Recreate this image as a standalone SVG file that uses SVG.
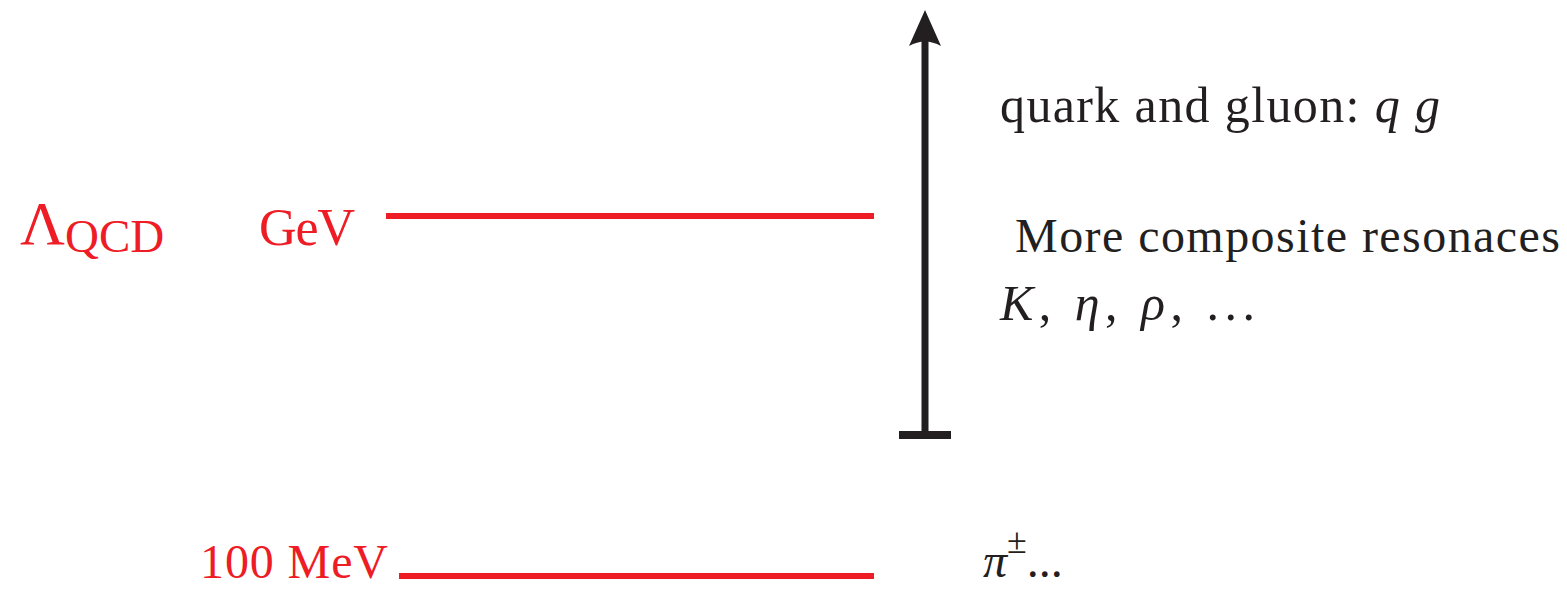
<svg xmlns="http://www.w3.org/2000/svg" width="1567" height="589" viewBox="0 0 1567 589">
<style>
.red{fill:#ee1c25;font-family:'Liberation Serif','DejaVu Serif','Times New Roman',serif}
.blk{fill:#231f20;font-family:'Liberation Serif','DejaVu Serif','Times New Roman',serif}
.it{font-style:italic}
.lvl{stroke:#ee1c25;stroke-width:6;fill:none}
</style>
<g id="labels-left">
<g id="lambda"><text class="red" x="20" y="244" font-size="62">Λ<tspan font-size="47" dy="8">QCD</tspan></text></g>
<g id="gev"><text class="red" x="259" y="245" font-size="52" textLength="96">GeV</text></g>
<g id="mev"><text class="red" x="200" y="578" font-size="48" textLength="188">100 MeV</text></g>
</g>
<g id="connectors">
<line id="level-gev" class="lvl" x1="386" y1="216" x2="874" y2="216"/>
<line id="level-mev" class="lvl" x1="399" y1="576" x2="874" y2="576"/>
<g id="energy-axis">
<line x1="925" y1="435" x2="925" y2="40" stroke="#231f20" stroke-width="7"/>
<path d="M925 10 L941 46 Q925 37 909 46 Z" fill="#231f20"/>
<line x1="899" y1="435" x2="951" y2="435" stroke="#231f20" stroke-width="8"/>
</g>
</g>
<g id="labels-right">
<g id="quark"><text class="blk" x="1000" y="122" font-size="50" textLength="440">quark and gluon: <tspan class="it">q</tspan>  <tspan class="it">g</tspan></text></g>
<g id="composite"><text class="blk" x="1015" y="252" font-size="48" textLength="545">More composite resonaces</text></g>
<g id="mesons"><text class="blk" x="1000" y="320" font-size="50" textLength="255"><tspan class="it">K</tspan>,  <tspan class="it">η</tspan>,  <tspan class="it">ρ</tspan>,  ...</text></g>
<g id="pion"><text class="blk" x="983" y="577" font-size="48"><tspan class="it">π</tspan><tspan font-size="36" dy="-24">±</tspan><tspan dy="24">...</tspan></text></g>
</g>
</svg>
